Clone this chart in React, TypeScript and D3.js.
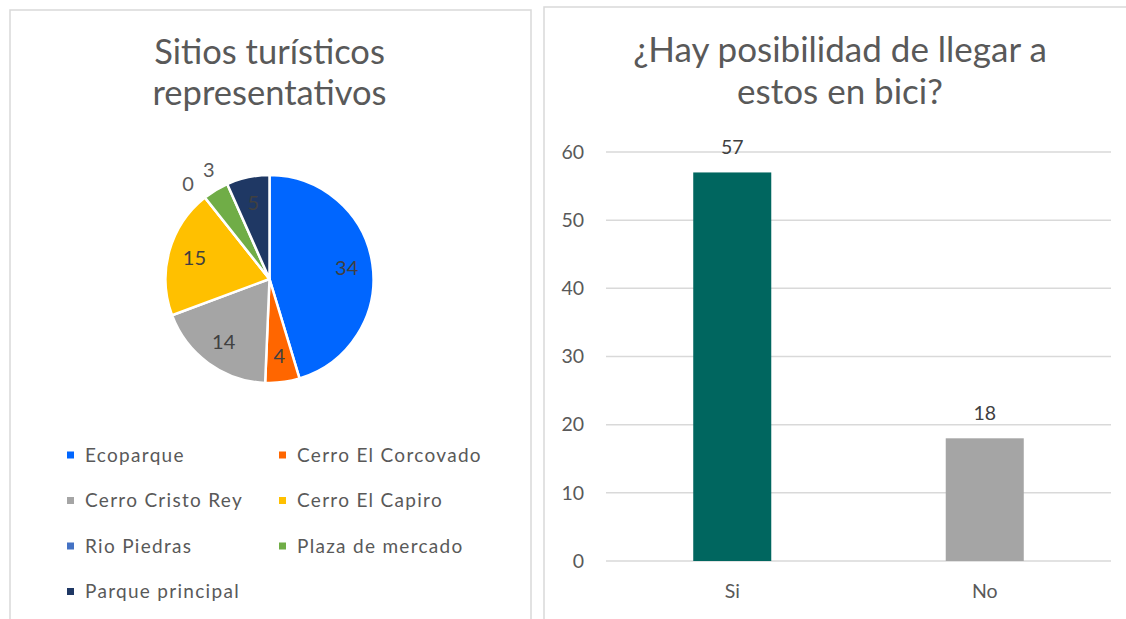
import React from 'react';
import * as d3 from 'd3';

const pieCategories = ['Ecoparque', 'Cerro El Corcovado', 'Cerro Cristo Rey', 'Cerro El Capiro', 'Rio Piedras', 'Plaza de mercado', 'Parque principal'];
const pieValues = [34, 4, 14, 15, 0, 3, 5];
const pieColors = ['#0066FF', '#FF6600', '#A5A5A5', '#FFC000', '#4472C4', '#70AD47', '#1F3864'];
const pieTitle = ['Sitios turísticos', 'representativos'];

const barCategories = ['Si', 'No'];
const barValues = [57, 18];
const barColors = ['#00665F', '#A5A5A5'];
const barTicks = [0, 10, 20, 30, 40, 50, 60];
const barTitle = ['¿Hay posibilidad de llegar a', 'estos en bici?'];

const FONT = 'Lato, Carlito, Calibri, sans-serif';
const TXT = '#595959';
const LBL = '#404040';
const GRID = '#D9D9D9';

export default function App() {
  const W = 1126, H = 619;
  // pie
  const cx = 269.5, cy = 279, R = 104;
  const pie = d3.pie<number>().sort(null).value(d => d);
  const arcs = pie(pieValues);
  const arcGen = d3.arc<d3.PieArcDatum<number>>().innerRadius(0).outerRadius(R);
  const inLabel = d3.arc<d3.PieArcDatum<number>>().innerRadius(R * 0.75).outerRadius(R * 0.75);
  const outLabel = d3.arc<d3.PieArcDatum<number>>().innerRadius(R * 1.2).outerRadius(R * 1.2);

  const labels = arcs.map(a => {
    const outside = a.data <= 3;
    const [lx, ly] = (outside ? outLabel : inLabel).centroid(a);
    return { v: a.data, x: lx, y: ly, outside };
  });
  // separate overlapping outside labels
  const outs = labels.filter(l => l.outside);
  const minD = 25;
  for (let i = 0; i < outs.length; i++) {
    for (let j = i + 1; j < outs.length; j++) {
      const a = outs[i], b = outs[j];
      const dx = b.x - a.x, dy = b.y - a.y;
      const d = Math.hypot(dx, dy) || 1;
      if (d < minD) {
        const push = (minD - d) / 2;
        a.x -= (dx / d) * push; a.y -= (dy / d) * push;
        b.x += (dx / d) * push; b.y += (dy / d) * push;
      }
    }
  }

  // bar
  const x = d3.scaleBand<string>().domain(barCategories).range([606, 1111]).paddingInner(0.691).paddingOuter(0.3455);
  const y = d3.scaleLinear().domain([0, 60]).range([561, 152]);

  return (
    <div style={{ position: 'absolute', left: 0, top: 0 }}>
      <svg width={W} height={H} style={{ display: 'block', background: '#fff' }} fontFamily={FONT}>
        <rect x={0} y={0} width={W} height={H} fill="#fff" />
        {/* panels */}
        <rect x={10} y={10} width={521} height={640} fill="#fff" stroke={GRID} strokeWidth={1.5} />
        <rect x={544} y={7} width={620} height={640} fill="#fff" stroke={GRID} strokeWidth={1.5} />

        {/* pie title */}
        {pieTitle.map((t, i) => (
          <text key={t} x={cx} y={64 + i * 41} textAnchor="middle" fontSize={34.5} fill={TXT}>{t}</text>
        ))}
        <g transform={`translate(${cx},${cy})`}>
          {arcs.map((a, i) => (
            <path key={i} d={arcGen(a) || ''} fill={pieColors[i]} stroke="#fff" strokeWidth={2.5} strokeLinejoin="round" />
          ))}
          {labels.map((l, i) => (
            <text key={'l' + i} x={l.x} y={l.y} dy="0.35em" textAnchor="middle" fontSize={20} fill={l.outside ? TXT : LBL}>{l.v}</text>
          ))}
        </g>
        {/* legend */}
        {pieCategories.map((c, i) => {
          const col = i % 2, row = Math.floor(i / 2);
          const lx = col === 0 ? 67 : 279;
          const ly = 455 + row * 45.5;
          return (
            <g key={c}>
              <rect x={lx} y={ly - 3.5} width={7} height={7} fill={pieColors[i]} />
              <text x={lx + 18} y={ly} dy="0.35em" fontSize={19} fill={TXT} letterSpacing={1.3}>{c}</text>
            </g>
          );
        })}

        {/* bar title */}
        {barTitle.map((t, i) => (
          <text key={t} x={840} y={62 + i * 42} textAnchor="middle" fontSize={35} fill={TXT}>{t}</text>
        ))}
        {barTicks.map(t => (
          <g key={t}>
            <line x1={606} x2={1111} y1={y(t)} y2={y(t)} stroke={GRID} strokeWidth={1.5} />
            <text x={584} y={y(t)} dy="0.35em" textAnchor="end" fontSize={19.5} fill={TXT}>{t}</text>
          </g>
        ))}
        {barCategories.map((c, i) => (
          <g key={c}>
            <rect x={x(c)} y={y(barValues[i])} width={x.bandwidth()} height={y(0) - y(barValues[i])} fill={barColors[i]} />
            <text x={(x(c) || 0) + x.bandwidth() / 2} y={y(barValues[i]) - 18} textAnchor="middle" fontSize={19.5} fill={LBL}>{barValues[i]}</text>
            <text x={(x(c) || 0) + x.bandwidth() / 2} y={598} textAnchor="middle" fontSize={19.5} fill={TXT}>{c}</text>
          </g>
        ))}
      </svg>
    </div>
  );
}
